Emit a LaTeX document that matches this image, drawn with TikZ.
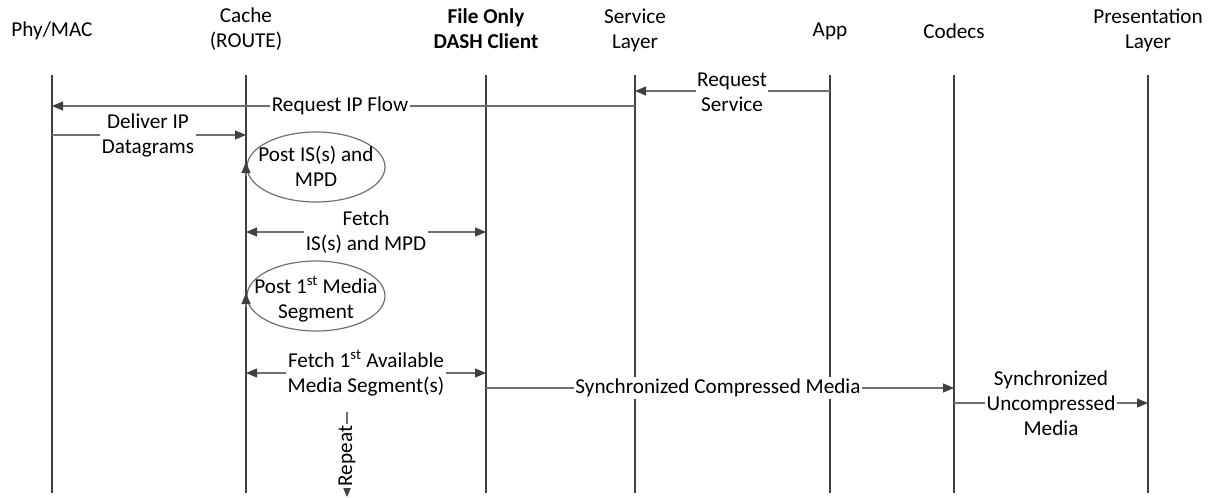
\documentclass[tikz,border=0pt]{standalone}
\usepackage{fontspec}
\setmainfont{Carlito}
\usetikzlibrary{arrows.meta,shapes.geometric}

\definecolor{lifec}{HTML}{404040}
\definecolor{msgc}{HTML}{707070}
\definecolor{tipc}{HTML}{404040}

\newcommand{\dfont}{\fontsize{21.2}{25}\selectfont}

\begin{document}
\begin{tikzpicture}[
  x=1pt, y=-1pt,
  head/.style={align=center, font=\dfont, inner sep=0pt},
  life/.style={draw=lifec, line width=2.2pt},
  msg/.style={draw=msgc, line width=1.2pt,
    -{Triangle[length=11pt,width=9pt,color=tipc]}},
  dmsg/.style={draw=msgc, line width=1.2pt,
    {Triangle[length=11pt,width=9pt,color=tipc]}-{Triangle[length=11pt,width=9pt,color=tipc]}},
  lbl/.style={fill=white, align=center, font=\dfont, inner sep=1.5pt},
  post/.style={ellipse, draw=msgc, line width=1.2pt, minimum width=138pt,
    minimum height=70pt, inner sep=0pt},
  posttext/.style={align=center, font=\dfont, inner sep=0pt}
]
\useasboundingbox (0,0) rectangle (1221,498);

% participants
\node[head] (hphy)   at (52,31)   {Phy/MAC};
\node[head] (hcache) at (246,29)  {Cache\\(ROUTE)};
\node[head, font=\dfont\bfseries] (hdash) at (486,29) {File Only\\DASH Client};
\node[head] (hsvc)   at (635,30)  {Service\\Layer};
\node[head] (happ)   at (830,31)  {App};
\node[head] (hcod)   at (954,31)  {Codecs};
\node[head] (hpres)  at (1148,30) {Presentation\\Layer};

% lifelines
\coordinate (phyT)   at (52,75);   \coordinate (phyB)   at (52,493);
\coordinate (cacheT) at (246,75);  \coordinate (cacheB) at (246,493);
\coordinate (dashT)  at (486,75);  \coordinate (dashB)  at (486,493);
\coordinate (svcT)   at (635,75);  \coordinate (svcB)   at (635,493);
\coordinate (appT)   at (830,75);  \coordinate (appB)   at (830,493);
\coordinate (codT)   at (954,75);  \coordinate (codB)   at (954,493);
\coordinate (presT)  at (1148,75); \coordinate (presB)  at (1148,493);

\foreach \l in {phy,cache,dash,svc,app,cod,pres}
  \draw[life] (\l T) -- (\l B);

% messages
\draw[msg] (appT |- 0,91) -- (svcT |- 0,91);
\node[lbl] (lreqsvc) at (732,92) {Request\\Service};

\draw[msg] (svcT |- 0,106) -- (phyT |- 0,106);
\node[lbl] (lreqip) at (340,106) {Request IP Flow};

\draw[msg] (phyT |- 0,135) -- (cacheT |- 0,135);
\node[lbl] (ldeliver) at (148,135) {Deliver IP\\Datagrams};

% cache posts
\node[post] (post1) at (316,167) {};
\node[posttext] (post1t) at (316,166) {Post IS(s) and\\MPD};
\draw[msg] (cacheT |- 0,176) -- (cacheT |- 0,162);

\draw[dmsg] (cacheT |- 0,232) -- (dashT |- 0,232);
\node[lbl] (lfetch1) at (366,232) {Fetch\\IS(s) and MPD};

\node[post] (post2) at (316,296) {};
\node[posttext] (post2t) at (316,299) {Post 1\textsuperscript{st} Media\\Segment};
\draw[msg] (cacheT |- 0,307) -- (cacheT |- 0,293);

\draw[dmsg] (cacheT |- 0,373) -- (dashT |- 0,373);
\node[lbl] (lfetch2) at (366,373) {Fetch 1\textsuperscript{st} Available\\Media Segment(s)};

\draw[msg] (dashT |- 0,388) -- (codT |- 0,388);
\node[lbl] (lcomp) at (718,388) {Synchronized Compressed Media};

\draw[msg] (codT |- 0,403) -- (presT |- 0,403);
\node[lbl] (luncomp) at (1051,403) {Synchronized\\Uncompressed\\Media};

% repeat marker
\coordinate (rpT) at (347,412);
\coordinate (rpB) at (347,497);
\draw[msg] (rpT) -- (rpB);
\node[lbl, rotate=90] (lrep) at (347,456) {Repeat};
\end{tikzpicture}
\end{document}
